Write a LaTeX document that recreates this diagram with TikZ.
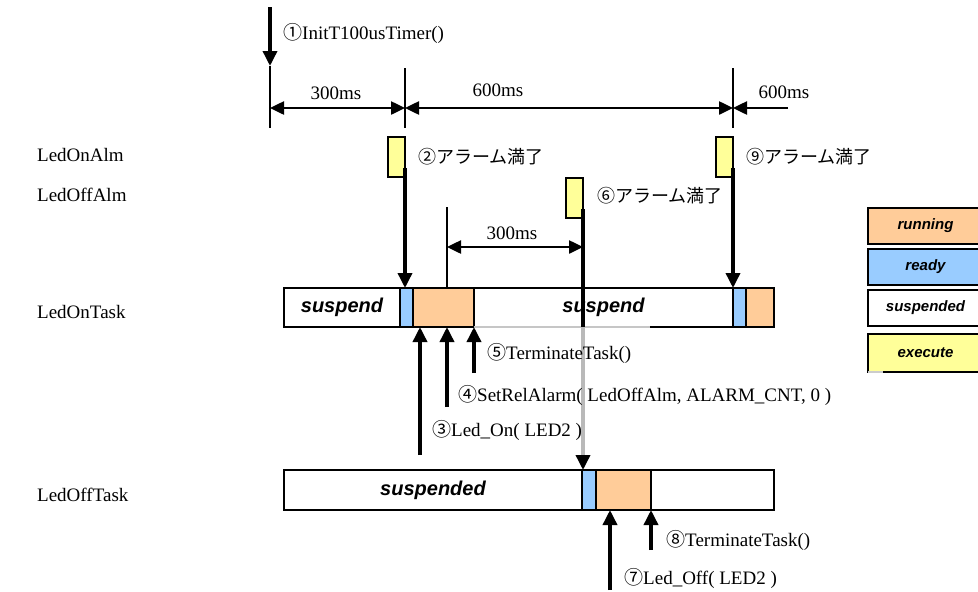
\documentclass[tikz,border=0pt]{standalone}
\usepackage{fontspec}
\setmainfont{Liberation Serif}
\setsansfont{Liberation Sans}
\newfontfamily\jpfont{Noto Sans CJK JP}
\usetikzlibrary{arrows.meta,positioning}
\definecolor{runcol}{HTML}{FFCC99}
\definecolor{rdycol}{HTML}{99CCFF}
\definecolor{execol}{HTML}{FFFF99}
\tikzstyle{seg} = [rectangle, draw, line width=2pt, inner sep=0pt, outer sep=0pt,
minimum height=39pt, font=\fontsize{20}{24}\sffamily\bfseries\itshape]
\tikzstyle{suspseg} = [seg, fill=white]
\tikzstyle{readyseg} = [seg, fill=rdycol]
\tikzstyle{runseg} = [seg, fill=runcol]
\tikzstyle{alarm} = [rectangle, draw, line width=2pt, fill=execol, inner sep=0pt, outer sep=0pt,
minimum width=17pt, minimum height=40pt, anchor=north west]
\tikzstyle{keybox} = [rectangle, draw, line width=2pt, inner sep=0pt, outer sep=0pt, anchor=north west,
minimum width=115pt, minimum height=36pt, font=\fontsize{15}{17}\sffamily\bfseries\itshape]
\tikzstyle{lbl} = [inner sep=0pt, anchor=west, font=\fontsize{19}{22}\selectfont]
\tikzstyle{jplbl} = [lbl, font=\fontsize{18}{22}\jpfont]
\tikzstyle{line} = [draw, line width=3.5pt, -{Triangle[length=15pt,width=14pt]}]
\tikzstyle{dimline} = [draw, line width=2.5pt,
{Triangle[length=14pt,width=13pt]}-{Triangle[length=14pt,width=13pt]}]
\tikzstyle{dimend} = [draw, line width=2.5pt, -{Triangle[length=14pt,width=13pt]}]
\tikzstyle{tickline} = [draw, line width=2.5pt]
\newcommand{\cn}[1]{{\jpfont #1}}

\begin{document}
\begin{tikzpicture}[x=1pt, y=-1pt]
\useasboundingbox (0,0) rectangle (978,592);

% Object names
\node [lbl] (onalm) at (37,155) {LedOnAlm};
\node [lbl] (offalm) at (37,195) {LedOffAlm};
\node [lbl] (ontask) at (37,312) {LedOnTask};
\node [lbl] (offtask) at (37,495) {LedOffTask};

% Timer start and periods
\coordinate (init) at (270,7);
\coordinate (tk0) at (270,66);
\coordinate (tk1) at (405,68);
\coordinate (tk2) at (733,68);
\coordinate (d0) at (270,108);
\coordinate (d1) at (405,108);
\coordinate (d2) at (733,108);
\coordinate (d3) at (788,108);
\path [line] (init) -- (tk0);
\node [lbl] (tinit) at (283,33) {\cn{①}InitT100usTimer()};
\path [tickline] (tk0) -- ++(0,62);
\path [tickline] (tk1) -- ++(0,60);
\path [tickline] (tk2) -- ++(0,60);
\path [dimline] (d0) -- (d1);
\path [dimline] (d1) -- (d2);
\path [dimend] (d3) -- (d2);
\node [lbl, anchor=center] (pa) at (336,93) {300ms};
\node [lbl, anchor=center] (pb) at (498,90) {600ms};
\node [lbl, anchor=center] (pc) at (784,92) {600ms};

% Alarms
\node [alarm] (alm1) at (388,137) {};
\node [alarm] (alm9) at (716,137) {};
\node [alarm] (alm6) at (566,178) {};
\node [jplbl] (t2) at (418,157) {②アラーム満了};
\node [jplbl] (t9) at (746,157) {⑨アラーム満了};
\node [jplbl] (t6) at (597,196) {⑥アラーム満了};

% LedOnTask states
\node [suspseg, minimum width=116pt, anchor=north west] (on1) at (284,288) {suspend};
\node [readyseg, minimum width=13pt, right=0pt of on1] (on2) {};
\node [runseg, minimum width=61pt, right=0pt of on2] (on3) {};
\node [suspseg, minimum width=259pt, right=0pt of on3] (on4) {suspend};
\node [readyseg, minimum width=13pt, right=0pt of on4] (on5) {};
\node [runseg, minimum width=28pt, right=0pt of on5] (on6) {};
\draw [gray!45, line width=2pt] (on4.south west) -- ++(176,0);

% LedOffTask states
\node [suspseg, minimum width=298pt, minimum height=40pt, anchor=north west] (off1) at (284,470) {suspended};
\node [readyseg, minimum width=14pt, minimum height=40pt, right=0pt of off1] (off2) {};
\node [runseg, minimum width=55pt, minimum height=40pt, right=0pt of off2] (off3) {};
\node [suspseg, minimum width=123pt, minimum height=40pt, right=0pt of off3] (off4) {};

% Alarm expiry
\path [line] ([yshift=9pt]alm1.south east) -- (alm1.south east |- on1.north);
\path [line] ([yshift=9pt]alm9.south east) -- (alm9.south east |- on5.north);
\path [line, draw=gray!55, -{Triangle[length=15pt,width=14pt,black]}]
([yshift=9pt]alm6.south east) -- (alm6.south east |- off2.north);
\draw [line width=3.5pt] ([yshift=9pt]alm6.south east) -- (alm6.south east |- on4.south);

% Relative alarm
\coordinate (tk3) at (447,207);
\coordinate (d4) at (447,247);
\path [tickline] (tk3) -- (tk3 |- on3.north);
\path [dimline] (d4) -- (d4 -| alm6.east);
\node [lbl, anchor=center] (pd) at (512,233) {300ms};

% Service calls
\coordinate (c3) at (420,455);
\coordinate (c4) at (447,407);
\coordinate (c5) at (474,373);
\coordinate (c7) at (610,590);
\coordinate (c8) at (651,550);
\path [line] (c3) -- (c3 |- on3.south);
\path [line] (c4) -- (c4 |- on3.south);
\path [line] (c5) -- (c5 |- on3.south);
\path [line] (c7) -- (c7 |- off3.south);
\path [line] (c8) -- (c8 |- off3.south);
\node [lbl] (t5) at (487,353) {\cn{⑤}TerminateTask()};
\node [lbl] (t4) at (458,395) {\cn{④}SetRelAlarm( LedOffAlm, ALARM\_CNT, 0 )};
\node [lbl] (t3) at (432,430) {\cn{③}Led\_On( LED2 )};
\node [lbl] (t8) at (666,540) {\cn{⑧}TerminateTask()};
\node [lbl] (t7) at (624,578) {\cn{⑦}Led\_Off( LED2 )};

% Legend
\node [keybox, fill=runcol] (krun) at (868,208) {running};
\node [keybox, fill=rdycol, below=5pt of krun] (krdy) {ready};
\node [keybox, fill=white, below=5pt of krdy] (ksus) {suspended};
\node [keybox, fill=execol, minimum height=38pt, below=8pt of ksus] (kexe) {execute};
\draw [gray!40, line width=2pt] (kexe.south west) -- ++(15,0);

\end{tikzpicture}
\end{document}
